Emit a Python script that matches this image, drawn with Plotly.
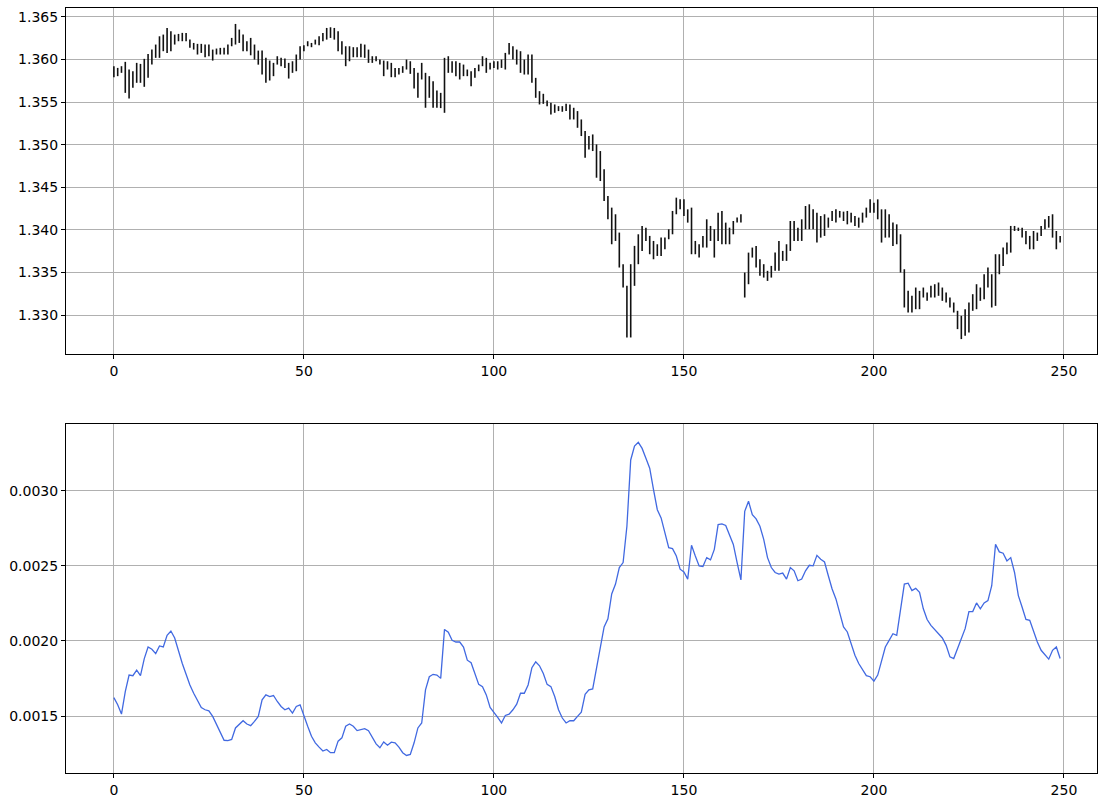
import plotly.graph_objects as go

high = [1.35922,1.35902,1.35922,1.35973,1.35883,1.35863,1.35961,1.35949,1.36008,1.36066,
        1.36117,1.36176,1.36273,1.36293,1.36371,1.36332,1.36293,1.36301,1.36313,1.36313,
        1.36234,1.36195,1.36184,1.36184,1.36176,1.36176,1.36117,1.36129,1.36137,1.36137,
        1.36176,1.36254,1.36418,1.36352,1.36293,1.36215,1.36254,1.36176,1.36105,1.36105,
        1.36020,1.35988,1.35961,1.36039,1.36020,1.36012,1.35961,1.35980,1.36059,1.36156,
        1.36168,1.36215,1.36195,1.36234,1.36273,1.36313,1.36371,1.36379,1.36371,1.36332,
        1.36215,1.36156,1.36156,1.36145,1.36145,1.36184,1.36176,1.36117,1.36039,1.36039,
        1.36000,1.35988,1.35980,1.35961,1.35902,1.35902,1.35922,1.36000,1.35980,1.35902,
        1.35844,1.35961,1.35844,1.35805,1.35746,1.35637,1.35609,1.36020,1.36039,1.35980,
        1.35980,1.35961,1.35941,1.35883,1.35863,1.35902,1.35941,1.36039,1.36020,1.35961,
        1.35980,1.35980,1.36000,1.36078,1.36195,1.36156,1.36117,1.36098,1.36000,1.36059,
        1.36059,1.35785,1.35629,1.35598,1.35520,1.35492,1.35473,1.35453,1.35453,1.35480,
        1.35473,1.35434,1.35395,1.35297,1.35160,1.35102,1.35121,1.35004,1.34926,1.34711,
        1.34398,1.34262,1.34184,1.33969,1.33598,1.33344,1.33598,1.33813,1.33949,1.34047,
        1.34027,1.33930,1.33871,1.33832,1.33910,1.33910,1.34008,1.34223,1.34379,1.34359,
        1.34359,1.34242,1.34262,1.33871,1.33832,1.33930,1.34125,1.34047,1.34008,1.34203,
        1.34223,1.34086,1.34027,1.34105,1.34145,1.34184,1.33500,1.33734,1.33793,1.33813,
        1.33656,1.33598,1.33520,1.33578,1.33734,1.33871,1.33754,1.33832,1.34105,1.34105,
        1.34027,1.34125,1.34281,1.34301,1.34242,1.34203,1.34164,1.34184,1.34145,1.34223,
        1.34242,1.34223,1.34215,1.34223,1.34203,1.34164,1.34145,1.34203,1.34262,1.34359,
        1.34320,1.34359,1.34242,1.34242,1.34184,1.34086,1.34066,1.33949,1.33539,1.33285,
        1.33227,1.33324,1.33285,1.33324,1.33266,1.33344,1.33363,1.33383,1.33324,1.33266,
        1.33207,1.33148,1.33051,1.32992,1.33070,1.33148,1.33246,1.33363,1.33324,1.33480,
        1.33559,1.33480,1.33715,1.33715,1.33793,1.33852,1.34047,1.34047,1.34027,1.34027,
        1.33988,1.33930,1.33988,1.33969,1.34047,1.34125,1.34164,1.34184,1.33988,1.33930]

low = [1.35793,1.35805,1.35844,1.35609,1.35543,1.35668,1.35727,1.35727,1.35680,1.35785,
       1.35941,1.36020,1.36020,1.36098,1.36078,1.36098,1.36176,1.36215,1.36215,1.36215,
       1.36137,1.36117,1.36059,1.36078,1.36027,1.36039,1.35988,1.36059,1.36059,1.36059,
       1.36059,1.36156,1.36176,1.36195,1.36098,1.36098,1.36050,1.36000,1.35940,1.35824,
       1.35727,1.35754,1.35805,1.35941,1.35922,1.35902,1.35777,1.35844,1.35863,1.36000,
       1.36098,1.36156,1.36145,1.36176,1.36168,1.36215,1.36234,1.36254,1.36234,1.36098,
       1.36059,1.35922,1.35980,1.36027,1.36027,1.36027,1.36020,1.35961,1.35961,1.35980,
       1.35941,1.35805,1.35883,1.35793,1.35793,1.35824,1.35844,1.35883,1.35832,1.35660,
       1.35551,1.35766,1.35434,1.35551,1.35434,1.35434,1.35430,1.35375,1.35844,1.35844,
       1.35805,1.35766,1.35805,1.35805,1.35688,1.35785,1.35863,1.35922,1.35844,1.35883,
       1.35902,1.35883,1.35902,1.35883,1.36059,1.36000,1.35941,1.35844,1.35824,1.35824,
       1.35727,1.35551,1.35473,1.35480,1.35453,1.35355,1.35375,1.35395,1.35387,1.35395,
       1.35297,1.35297,1.35199,1.35102,1.34848,1.34945,1.34926,1.34613,1.34574,1.34340,
       1.34125,1.33832,1.33871,1.33559,1.33324,1.32738,1.32738,1.33344,1.33598,1.33754,
       1.33871,1.33715,1.33656,1.33695,1.33695,1.33773,1.33891,1.33949,1.34184,1.34242,
       1.34164,1.34086,1.33715,1.33715,1.33676,1.33793,1.33793,1.33871,1.33676,1.33871,
       1.33832,1.33832,1.33832,1.33949,1.34086,1.34086,1.33207,1.33363,1.33676,1.33559,
       1.33461,1.33441,1.33402,1.33441,1.33520,1.33520,1.33637,1.33637,1.33754,1.33871,
       1.33871,1.33871,1.34008,1.34008,1.34008,1.33852,1.33910,1.33930,1.34027,1.34105,
       1.34086,1.34145,1.34105,1.34066,1.34086,1.34047,1.34027,1.34086,1.34145,1.34203,
       1.34203,1.34125,1.33852,1.33910,1.33910,1.33813,1.33832,1.33500,1.33090,1.33031,
       1.33031,1.33070,1.33070,1.33207,1.33168,1.33207,1.33207,1.33227,1.33168,1.33148,
       1.33090,1.33031,1.32836,1.32719,1.32758,1.32797,1.33051,1.33070,1.33168,1.33188,
       1.33324,1.33090,1.33109,1.33480,1.33578,1.33715,1.33734,1.33988,1.33988,1.33910,
       1.33832,1.33773,1.33773,1.33871,1.33930,1.34008,1.34027,1.33910,1.33773,1.33852]

atr = [0.001623,0.001575,0.001513,0.001663,0.001773,0.001769,0.001806,0.001769,0.001883,0.001960,
       0.001945,0.001916,0.001967,0.001960,0.002037,0.002066,0.002020,0.001932,0.001850,0.001778,
       0.001707,0.001652,0.001608,0.001557,0.001542,0.001535,0.001498,0.001443,0.001388,0.001339,
       0.001337,0.001344,0.001421,0.001443,0.001469,0.001447,0.001436,0.001465,0.001498,0.001608,
       0.001641,0.001630,0.001637,0.001597,0.001564,0.001542,0.001553,0.001520,0.001564,0.001575,
       0.001498,0.001432,0.001366,0.001322,0.001293,0.001267,0.001278,0.001256,0.001256,0.001333,
       0.001355,0.001432,0.001447,0.001432,0.001403,0.001410,0.001416,0.001403,0.001355,0.001315,
       0.001289,0.001328,0.001306,0.001326,0.001322,0.001293,0.001256,0.001238,0.001245,0.001322,
       0.001421,0.001454,0.001674,0.001762,0.001778,0.001773,0.001751,0.002077,0.002059,0.002004,
       0.001993,0.001993,0.001960,0.001872,0.001855,0.001784,0.001711,0.001696,0.001641,0.001557,
       0.001526,0.001491,0.001454,0.001504,0.001513,0.001542,0.001579,0.001652,0.001652,0.001707,
       0.001822,0.001861,0.001835,0.001784,0.001711,0.001696,0.001630,0.001542,0.001487,0.001454,
       0.001469,0.001469,0.001498,0.001526,0.001645,0.001674,0.001681,0.001817,0.001949,0.002093,
       0.002148,0.002313,0.002379,0.002489,0.002522,0.002764,0.003205,0.003297,0.003322,0.003282,
       0.003216,0.003150,0.003007,0.002874,0.002819,0.002720,0.002621,0.002615,0.002566,0.002478,
       0.002460,0.002412,0.002637,0.002566,0.002500,0.002496,0.002555,0.002540,0.002610,0.002775,
       0.002780,0.002769,0.002703,0.002643,0.002522,0.002407,0.002863,0.002930,0.002841,0.002813,
       0.002764,0.002676,0.002555,0.002489,0.002456,0.002445,0.002452,0.002412,0.002489,0.002467,
       0.002401,0.002412,0.002467,0.002504,0.002500,0.002570,0.002544,0.002526,0.002434,0.002346,
       0.002280,0.002181,0.002093,0.002060,0.001982,0.001905,0.001850,0.001806,0.001769,0.001762,
       0.001733,0.001773,0.001861,0.001960,0.002004,0.002048,0.002037,0.002225,0.002379,0.002385,
       0.002335,0.002350,0.002324,0.002214,0.002143,0.002104,0.002075,0.002048,0.002020,0.001971,
       0.001894,0.001883,0.001949,0.002004,0.002082,0.002196,0.002196,0.002253,0.002214,0.002253,
       0.002269,0.002368,0.002643,0.002593,0.002584,0.002533,0.002555,0.002456,0.002302,0.002225,
       0.002143,0.002137,0.002060,0.001993,0.001938,0.001905,0.001879,0.001938,0.001960,0.001883]

x_ticks = [0, 50, 100, 150, 200, 250]
top_y_ticks = [1.330, 1.335, 1.340, 1.345, 1.350, 1.355, 1.360, 1.365]
bot_y_ticks = [0.0015, 0.0020, 0.0025, 0.0030]

idx = list(range(len(high)))
bx, by = [], []
for i, lo, hi in zip(idx, low, high):
    bx += [i, i, None]
    by += [lo, hi, None]

fig = go.Figure()
fig.add_trace(go.Scatter(x=bx, y=by, mode="lines", line=dict(color="#111111", width=1.6),
                         xaxis="x", yaxis="y", connectgaps=False, hoverinfo="skip"))
fig.add_trace(go.Scatter(x=idx, y=atr, mode="lines", line=dict(color="#4169e1", width=1.3),
                         xaxis="x2", yaxis="y2"))

axis_common = dict(showgrid=True, gridcolor="#b0b0b0", gridwidth=1, zeroline=False,
                   showline=True, mirror=True, linecolor="black", linewidth=1,
                   ticks="outside", ticklen=4, tickcolor="black",
                   tickfont=dict(family="DejaVu Sans", size=14, color="black"))

fig.update_layout(
    width=1100, height=800,
    margin=dict(l=66, r=2, t=8, b=25),
    paper_bgcolor="white", plot_bgcolor="white",
    showlegend=False,
    xaxis=dict(domain=[0, 1], anchor="y", range=[-12.6, 258.7], tickvals=x_ticks, **axis_common),
    yaxis=dict(domain=[0.5476, 1], anchor="x", range=[1.32543, 1.36605], tickvals=top_y_ticks,
               tickformat=".3f", **axis_common),
    xaxis2=dict(domain=[0, 1], anchor="y2", range=[-12.6, 258.7], tickvals=x_ticks, **axis_common),
    yaxis2=dict(domain=[0, 0.4563], anchor="x2", range=[0.001121, 0.003445], tickvals=bot_y_ticks,
                tickformat=".4f", **axis_common),
)

fig.write_html("out.html")
